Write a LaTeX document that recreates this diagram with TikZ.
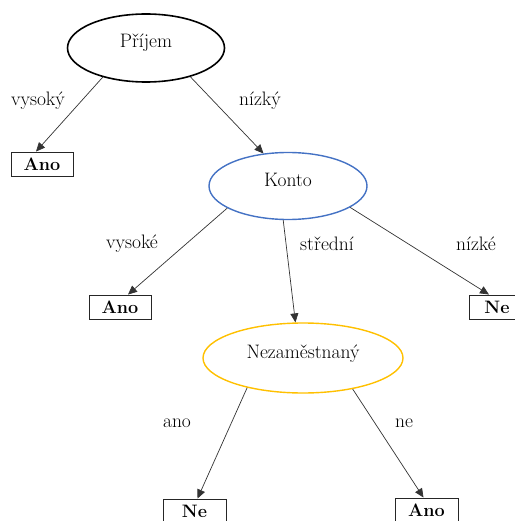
\documentclass[tikz,border=0pt]{standalone}
\usetikzlibrary{arrows.meta,shapes.geometric}
\begin{document}
\begin{tikzpicture}[x=1pt,y=-1pt,
  every node/.style={font=\fontsize{19.5}{22}\selectfont},
  decision/.style={draw,ellipse,inner sep=0pt,line width=#1,text height=8pt,text depth=8pt},
  leaf/.style={draw=black!85,line width=0.9pt,minimum width=62pt,minimum height=24pt,inner sep=0pt,font=\fontsize{18}{20}\selectfont\bfseries},
  edge/.style={draw=black!80,line width=0.7pt,-{Triangle[length=9pt,width=8pt]}},
  lbl/.style={inner sep=0pt}]
\useasboundingbox (0,0) rectangle (514,521);

% decision nodes
\node[decision=1.6pt,minimum width=157pt,minimum height=68pt] (prijem) at (146,48) {Příjem};
\node[decision=1.4pt,draw={rgb,255:red,68;green,114;blue,196},minimum width=158pt,minimum height=67pt] (konto) at (288,186) {Konto};
\node[decision=1.4pt,draw={rgb,255:red,255;green,192;blue,0},minimum width=200pt,minimum height=70pt] (nezam) at (303,358) {Nezaměstnaný};

% leaves
\node[leaf] (ano1) at (42,164) {Ano};
\node[leaf] (ano2) at (120,307) {Ano};
\node[leaf,minimum width=56pt] (ne1) at (497,307) {Ne};
\node[leaf,minimum width=63pt] (ne2) at (194.5,511) {Ne};
\node[leaf,minimum width=63pt] (ano3) at (426.5,510) {Ano};

% branches
\draw[edge] (prijem.214) -- ([xshift=-6pt]ano1.north);
\draw[edge] (prijem.327) -- (konto.127);
\draw[edge] (konto.200) -- ([xshift=8pt]ano2.north);
\draw[edge] (konto.262) -- (nezam.102);
\draw[edge] (konto.341) -- ([xshift=-8pt]ne1.north);
\draw[edge] (nezam.208) -- ([xshift=3pt]ne2.north);
\draw[edge] (nezam.328) -- ([xshift=-3pt]ano3.north);

% branch labels
\node[lbl] (l1) at (38,101) {vysoký};
\node[lbl] (l2) at (260,101) {nízký};
\node[lbl] (l3) at (132,244) {vysoké};
\node[lbl] (l4) at (327,244) {střední};
\node[lbl] (l5) at (476,244) {nízké};
\node[lbl] (l6) at (177,423) {ano};
\node[lbl] (l7) at (404,423) {ne};
\end{tikzpicture}
\end{document}
